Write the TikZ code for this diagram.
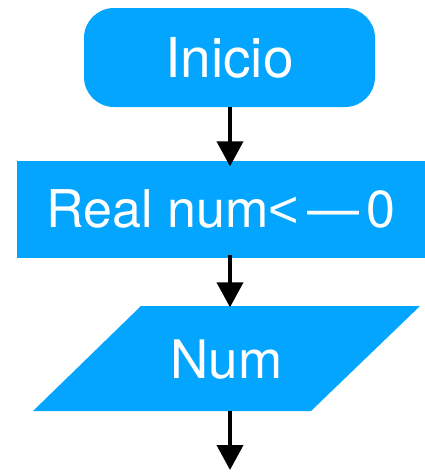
\documentclass[tikz,border=0pt]{standalone}
\usepackage{fontspec}
\setmainfont{TeX Gyre Heros}
\newfontfamily\arial{Liberation Sans}
\usetikzlibrary{arrows.meta}
\definecolor{azul}{RGB}{3,165,255}
\tikzset{
  caja/.style={fill=azul, text=white, inner sep=0pt},
  flecha/.style={line width=4pt, -{Triangle[width=26pt,length=25pt]}}
}
\begin{document}
\begin{tikzpicture}[x=1pt,y=-1pt]
    \useasboundingbox (0,0) rectangle (425,472);
    \node[caja, rounded corners=30pt, minimum width=291pt, minimum height=99pt,
      font=\fontsize{55}{60}\selectfont] (inicio) at (229.5,57.5) {Inicio};
    \node[caja, minimum width=408pt, minimum height=97pt,
      font=\fontsize{52}{58}\selectfont] (real) at (221,209) {Real num{\arial<}\kern8pt—\kern7pt0};
    % paralelogramo de entrada
    \fill[azul] (141,306) -- (420,306) -- (311,411) -- (33,411) -- cycle;
    \node[text=white, inner sep=0pt, minimum width=280pt, minimum height=105pt,
      font=\fontsize{53}{58}\selectfont] (num) at (226.5,360) {Num};
    \coordinate (eje) at (230,0);
    \coordinate (fin) at (230,470);
    \draw[flecha] (inicio.south -| eje) -- ([yshift=-6pt]real.north -| eje);
    \draw[flecha] ([yshift=3pt]real.south -| eje) -- (num.north -| eje);
    \draw[flecha] ([yshift=2pt]num.south -| eje) -- (fin);
\end{tikzpicture}
\end{document}
